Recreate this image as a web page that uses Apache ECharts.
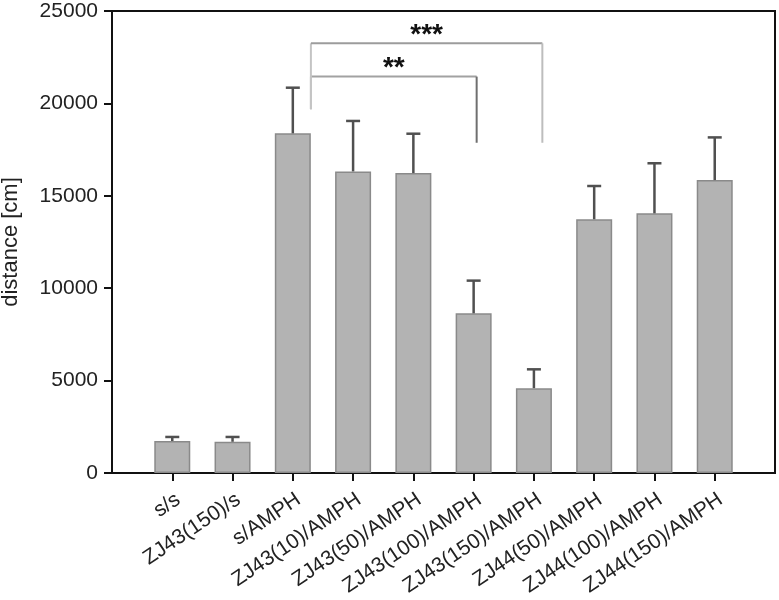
<!DOCTYPE html>
<html><head><meta charset="utf-8">
<script src="https://cdn.jsdelivr.net/npm/echarts@6/dist/echarts.min.js"></script>
<style>html,body{margin:0;padding:0;background:#fff}#c{width:779px;height:600px}</style>
</head><body><div id="c"></div>
<script>
const categories = ['s/s','ZJ43(150)/s','s/AMPH','ZJ43(10)/AMPH','ZJ43(50)/AMPH','ZJ43(100)/AMPH','ZJ43(150)/AMPH','ZJ44(50)/AMPH','ZJ44(100)/AMPH','ZJ44(150)/AMPH'];
const means = [1730, 1690, 18380, 16320, 16230, 8640, 4590, 13730, 14050, 15850];
const upper = [1950, 1950, 20850, 19050, 18360, 10410, 5610, 15530, 16760, 18160];
const yMin = 0, yMax = 25000, yStep = 5000;
// significance brackets: category index (0-based in categories) + fraction of a category step; y in data units
const brackets = [
  {from: 2, fromFrac: 0.30, to: 5, toFrac: 0.05, top: 21450, leftBottom: 19680, rightBottom: 17870, label: '**', rightColor: '#6f6f6f', lineColor: '#a2a2a2'},
  {from: 2, fromFrac: 0.30, to: 6, toFrac: 0.14, top: 23250, leftBottom: 19680, rightBottom: 17870, label: '***', rightColor: '#bdbdbd', lineColor: '#9c9c9c'}
];

const axisCats = [''].concat(categories, ['']);
const barData = ['-'].concat(means, ['-']);
const errData = categories.map((c, i) => [i + 1, means[i], upper[i]]);
const FONT = "'Liberation Sans', Arial, sans-serif";

const chart = echarts.init(document.getElementById('c'), null, {renderer: 'canvas'});
chart.setOption({
  animation: false,
  backgroundColor: '#fff',
  grid: {left: 112, right: 4, top: 11, bottom: 127, show: true, borderColor: '#111', borderWidth: 2, containLabel: false, outerBoundsMode: 'none'},
  xAxis: {
    type: 'category', data: axisCats, boundaryGap: false,
    axisLine: {lineStyle: {color: '#111', width: 2}},
    axisTick: {length: 8, lineStyle: {color: '#111', width: 2}, interval: (i) => i > 0 && i < axisCats.length - 1},
    axisLabel: {interval: 0, rotate: 34, fontSize: 21, color: '#222', margin: 16, verticalAlign: 'top', fontFamily: FONT},
    splitLine: {show: false}
  },
  yAxis: {
    type: 'value', min: yMin, max: yMax, interval: yStep,
    name: 'distance [cm]', nameLocation: 'middle', nameGap: 90,
    nameTextStyle: {fontSize: 22, color: '#222', fontFamily: FONT},
    axisLine: {show: true, lineStyle: {color: '#111', width: 2}},
    axisTick: {show: true, length: 8, lineStyle: {color: '#111', width: 2}},
    axisLabel: {fontSize: 21, color: '#222', margin: 14, fontFamily: FONT, formatter: (v) => String(v)},
    splitLine: {show: false}
  },
  series: [
    {type: 'bar', data: barData, barWidth: 36,
     itemStyle: {color: '#b3b3b3', borderColor: '#8a8a8a', borderWidth: 1.5}},
    {type: 'custom', data: errData, z: 3,
     renderItem: function (params, api) {
       const x = api.value(0);
       const p0 = api.coord([x, api.value(1)]);
       const p1 = api.coord([x, api.value(2)]);
       const half = 7;
       const st = {stroke: '#505050', lineWidth: 2.5};
       return {type: 'group', children: [
         {type: 'line', shape: {x1: p0[0], y1: p0[1], x2: p1[0], y2: p1[1]}, style: st},
         {type: 'line', shape: {x1: p1[0] - half, y1: p1[1], x2: p1[0] + half, y2: p1[1]}, style: st}
       ]};
     }},
    {type: 'custom', data: brackets.map((b, i) => [i]), z: 4, clip: false,
     renderItem: function (params, api) {
       const b = brackets[params.dataIndex];
       const step = api.coord([2, 0])[0] - api.coord([1, 0])[0];
       const xL = api.coord([b.from + 1, 0])[0] + b.fromFrac * step;
       const xR = api.coord([b.to + 1, 0])[0] + b.toFrac * step;
       const yT = api.coord([0, b.top])[1];
       const yLB = api.coord([0, b.leftBottom])[1];
       const yRB = api.coord([0, b.rightBottom])[1];
       return {type: 'group', children: [
         {type: 'line', shape: {x1: xL, y1: yT, x2: xL, y2: yLB}, style: {stroke: '#c4c4c4', lineWidth: 2}},
         {type: 'line', shape: {x1: xL, y1: yT, x2: xR, y2: yT}, style: {stroke: b.lineColor, lineWidth: 2}},
         {type: 'line', shape: {x1: xR, y1: yT, x2: xR, y2: yRB}, style: {stroke: b.rightColor, lineWidth: 2}},
         {type: 'text', style: {text: b.label, x: (xL + xR) / 2, y: yT - 8, align: 'center', verticalAlign: 'middle',
           fontSize: 28, fontWeight: 'bold', fill: '#111', fontFamily: FONT}}
       ]};
     }}
  ]
});
</script>
</body></html>
